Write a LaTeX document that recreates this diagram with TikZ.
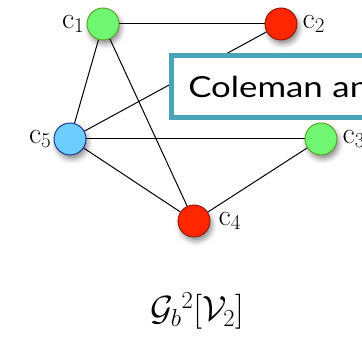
\RequirePackage{fix-cm}
\documentclass[tikz,border=0pt]{standalone}
\usepackage{fontspec}
\newfontfamily\boxfont[FakeStretch=1.2]{Lato}
\usetikzlibrary{shadows.blur,backgrounds}
\definecolor{vgreen}{RGB}{112,246,112}
\definecolor{vgreenb}{RGB}{84,160,30}
\definecolor{vred}{RGB}{255,38,0}
\definecolor{vredb}{RGB}{140,20,0}
\definecolor{vblue}{RGB}{110,205,255}
\definecolor{vblueb}{RGB}{20,40,150}
\definecolor{boxteal}{RGB}{72,164,184}
\tikzset{
  vtx/.style={circle,minimum size=32pt,inner sep=0pt,line width=0.9pt,
    blur shadow={shadow xshift=2pt,shadow yshift=-4pt,shadow blur radius=5pt,shadow opacity=45}},
  lbl/.style={font=\fontsize{30}{36}\selectfont,inner sep=2pt},
  edge/.style={line width=1pt}
}
\begin{document}
\begin{tikzpicture}[x=1pt,y=-1pt]
\useasboundingbox (0,0) rectangle (362,339);
\node[vtx,fill=vgreen,draw=vgreenb] (c1) at (103,24)  {};
\node[vtx,fill=vred,draw=vredb]     (c2) at (281,24)  {};
\node[vtx,fill=vgreen,draw=vgreenb] (c3) at (321,139) {};
\node[vtx,fill=vred,draw=vredb]     (c4) at (194,221) {};
\node[vtx,fill=vblue,draw=vblueb]   (c5) at (70,139)  {};
\node[lbl,left=0pt]  (l1) at (c1.west) {$\mathrm{c}_1$};
\node[lbl,right=3pt] (l2) at (c2.east) {$\mathrm{c}_2$};
\node[lbl,right=3pt] (l3) at (c3.east) {$\mathrm{c}_3$};
\node[lbl,right=6pt] (l4) at (c4.east) {$\mathrm{c}_4$};
\node[lbl,left=0pt]  (l5) at (c5.west) {$\mathrm{c}_5$};
\begin{scope}[on background layer]
\draw[edge] (c1) -- (c2);
\draw[edge] (c1) -- (c5);
\draw[edge] (c1) -- (c4);
\draw[edge] (c5) -- (c2);
\draw[edge] (c5) -- (c3);
\draw[edge] (c5) -- (c4);
\draw[edge] (c4) -- (c3);
\end{scope}
\node[draw=boxteal,line width=4.5pt,fill=white,anchor=west,minimum height=62pt,
  inner xsep=17pt,text width=220pt,align=left,font=\boxfont\fontsize{29}{34}\selectfont]
  (box) at (169,86.5) {Coleman an};
\node[font=\fontsize{35}{42}\selectfont] (title) at (197,311)
  {$\mathcal{G}_b{}^2[\mathcal{V}_2]$};
\end{tikzpicture}
\end{document}
